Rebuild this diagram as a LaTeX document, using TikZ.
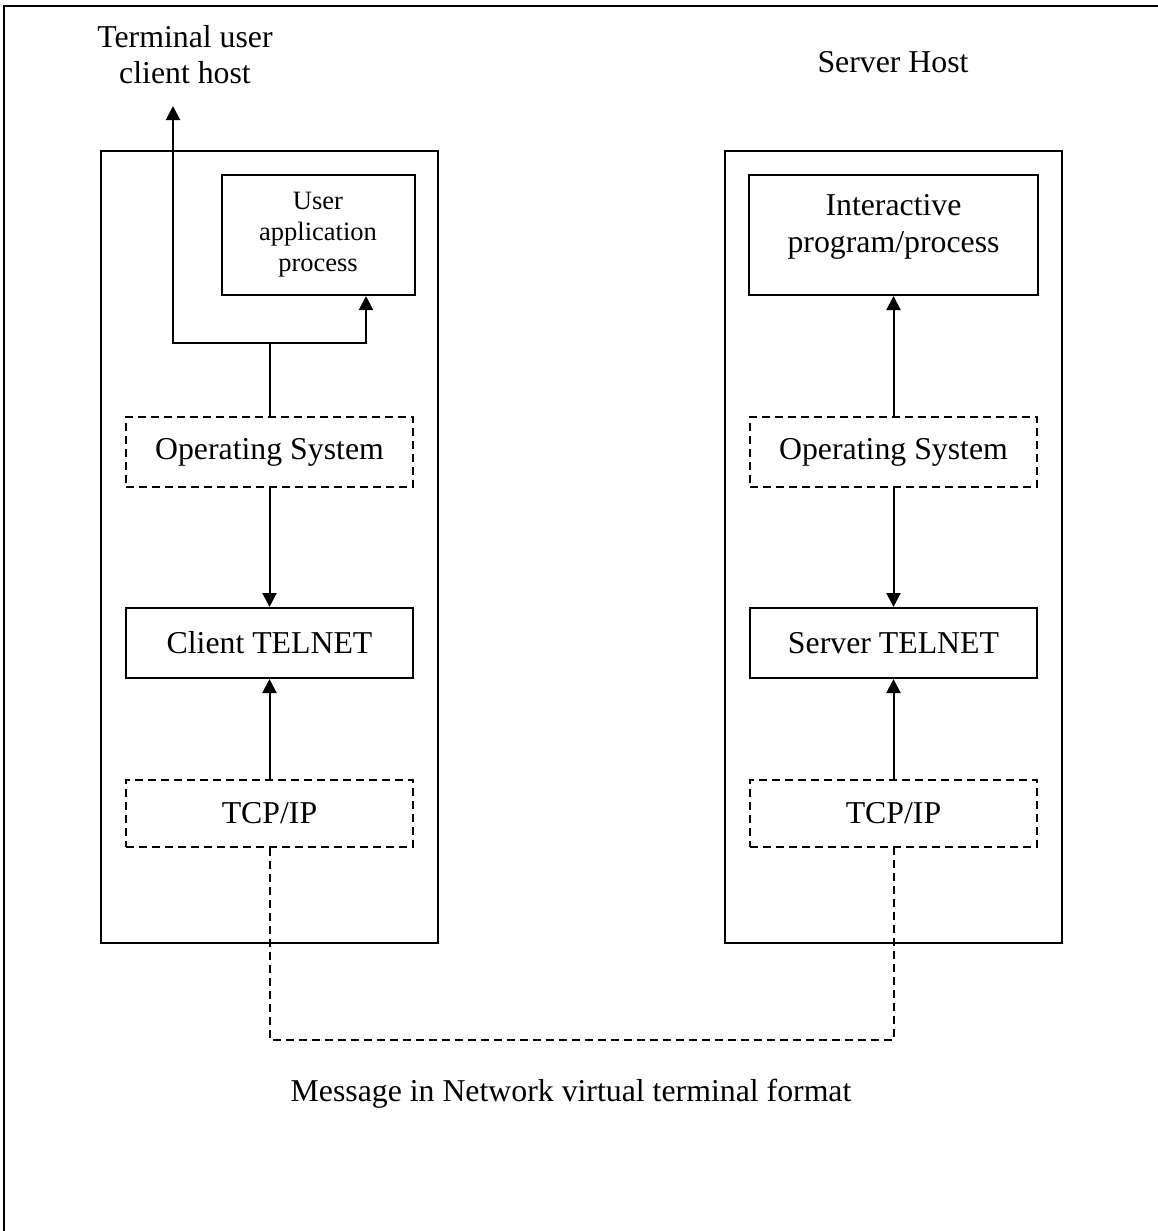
\documentclass[tikz,border=0pt]{standalone}
\usepackage{fontspec}
\setmainfont{Liberation Serif}
\usetikzlibrary{arrows.meta,calc}
\begin{document}
\begin{tikzpicture}[x=1pt,y=-1pt,
  rule/.style={line width=2pt},
  host/.style={draw, rule, inner sep=0pt, minimum width=337pt, minimum height=792pt},
  layer/.style={draw, rule, inner sep=0pt, minimum width=287pt, minimum height=70pt,
    font=\fontsize{31.8}{37}\selectfont},
  dlayer/.style={layer, dash pattern=on 8pt off 5pt},
  proc/.style={draw, rule, inner sep=0pt, minimum height=120pt},
  lbl/.style={font=\fontsize{31.8}{36}\selectfont, align=center, inner sep=0pt},
  arr/.style={rule, -{Triangle[width=14pt,length=14pt]}},
  link/.style={rule, dash pattern=on 8pt off 5pt}]
\useasboundingbox (0,0) rectangle (1158,1231);

% page frame
\draw[rule] (4,1231) -- (4,6) -- (1158,6);

% host enclosures
\node[host] (lhost) at (269.5,547) {};
\node[host] (rhost) at (893.5,547) {};

% client side
\node[proc, minimum width=193pt, align=center,
  font=\fontsize{26.5}{31}\selectfont] (uapp) at (318,235) {User\\application\\process};
\node[dlayer] (losys) at (269.5,452) {Operating System};
\node[layer] (ltel) at (269.5,643) {Client TELNET};
\node[dlayer, minimum height=67pt] (ltcp) at (269.5,813.5) {TCP/IP};

% server side
\node[proc, minimum width=289pt] (iprog) at (893.5,235) {};
\node[lbl, font=\fontsize{31.8}{37}\selectfont] (iprogtxt) at (893.5,227) {Interactive\\program/process};
\node[dlayer] (rosys) at (893.5,452) {Operating System};
\node[layer] (rtel) at (893.5,643) {Server TELNET};
\node[dlayer, minimum height=67pt] (rtcp) at (893.5,813.5) {TCP/IP};

% captions
\node[lbl] (termlbl) at (185,55) {Terminal user\\client host};
\node[lbl] (srvlbl) at (893,62) {Server Host};
\node[lbl] (msglbl) at (571,1094) {Message in Network virtual terminal format};

% client connectors
\coordinate (split) at (losys.north |- 0,343);
\coordinate (termout) at (173,106);
\draw[rule] (losys.north) -- (split);
\draw[arr] (split) -| (termout);
\draw[arr] (split) -| ([xshift=48pt]uapp.south);
\draw[arr] (losys.south) -- (ltel.north);
\draw[arr] (ltcp.north) -- (ltel.south);

% server connectors
\draw[arr] (rosys.north) -- (iprog.south);
\draw[arr] (rosys.south) -- (rtel.north);
\draw[arr] (rtcp.north) -- (rtel.south);

% network path between the TCP/IP layers
\draw[link] (ltcp.south) -- ++(0,192) -| (rtcp.south);
\end{tikzpicture}
\end{document}
